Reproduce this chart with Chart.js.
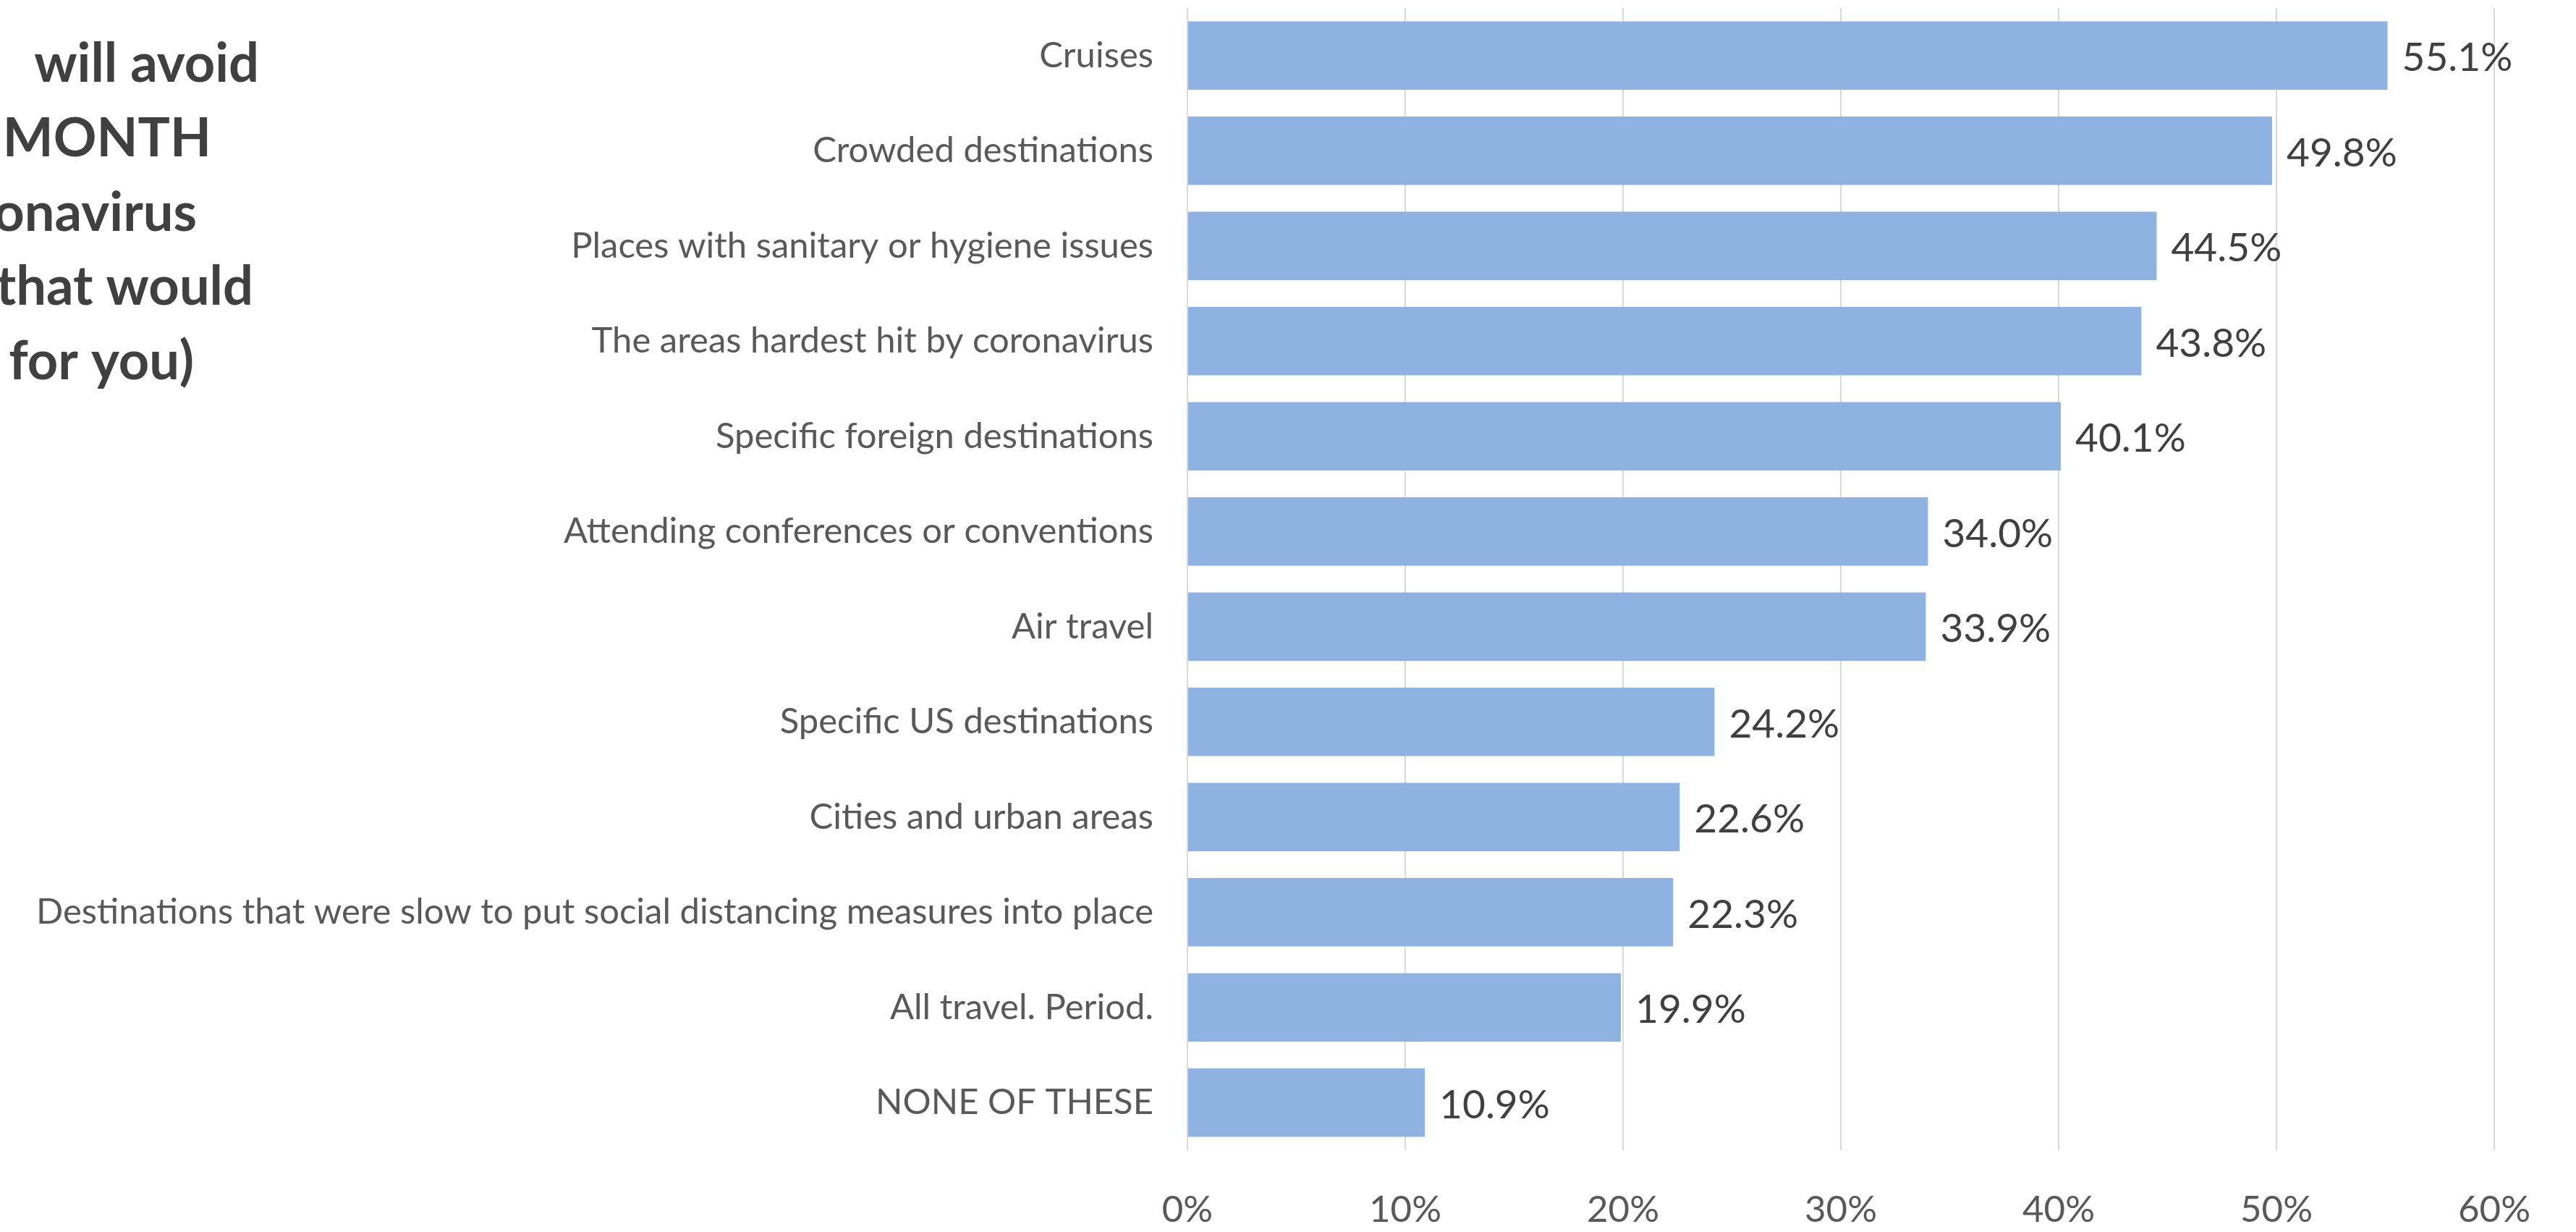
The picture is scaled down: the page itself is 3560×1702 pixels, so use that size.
<!DOCTYPE html>
<html>
<head>
<meta charset="utf-8">
<title>Places to avoid</title>
<script src="https://cdn.jsdelivr.net/npm/chart.js@4.4.0/dist/chart.umd.min.js"></script>
<style>
  html, body { margin: 0; padding: 0; background: #fff; }
  canvas { display: block; }
</style>
</head>
<body>
<canvas id="avoidChart" width="3560" height="1702"></canvas>
<script>
const categories = [
  "Cruises",
  "Crowded destinations",
  "Places with sanitary or hygiene issues",
  "The areas hardest hit by coronavirus",
  "Specific foreign destinations",
  "Attending conferences or conventions",
  "Air travel",
  "Specific US destinations",
  "Cities and urban areas",
  "Destinations that were slow to put social distancing measures into place",
  "All travel. Period.",
  "NONE OF THESE",
];
const shares = [55.1, 49.8, 44.5, 43.8, 40.1, 34.0, 33.9, 24.2, 22.6, 22.3, 19.9, 10.9];
const tickValues = [0, 10, 20, 30, 40, 50, 60];
const titleLines = [
  "Places I\u2003will avoid",
  "in the NEXT\u2003MONTH",
  "due to coronavirus",
  "(select all that would",
  "apply for you)",
];

const FONT = "Lato, 'Noto Sans', sans-serif";

// title block sits at the far left, running past the canvas edge
const titleRight = [358, 292, 272, 350, 268];
const titleBase = [113, 216, 319, 421, 524];
const titlePlugin = {
  id: "leftTitle",
  afterDraw(chart) {
    const c = chart.ctx;
    c.save();
    c.font = "bold 74px " + FONT;
    c.fillStyle = "#404040";
    c.textAlign = "right";
    c.textBaseline = "alphabetic";
    titleLines.forEach((line, i) => {
      c.fillText(line, titleRight[i], titleBase[i]);
    });
    c.restore();
  },
};

// percentage printed just past the end of each bar
const valueLabels = {
  id: "valueLabels",
  afterDatasetsDraw(chart) {
    const c = chart.ctx;
    const meta = chart.getDatasetMeta(0);
    c.save();
    c.font = "55px " + FONT;
    c.fillStyle = "#404040";
    c.textAlign = "left";
    c.textBaseline = "middle";
    meta.data.forEach((bar, i) => {
      c.fillText(shares[i].toFixed(1) + "%", bar.x + 20, bar.y + 4);
    });
    c.restore();
  },
};

const ctx = document.getElementById("avoidChart").getContext("2d");
const avoidChart = new Chart(ctx, {
  type: "bar",
  data: {
    labels: categories,
    datasets: [{
      data: shares,
      backgroundColor: "#8EB3E2",
      borderWidth: 0,
      barPercentage: 0.72,
      categoryPercentage: 1.0,
    }],
  },
  options: {
    indexAxis: "y",
    responsive: false,
    animation: false,
    devicePixelRatio: 1,
    layout: {
      padding: {top: 11, right: 113, bottom: 0, left: 0},
    },
    plugins: {
      legend: {display: false},
      tooltip: {enabled: false},
    },
    scales: {
      x: {
        min: tickValues[0],
        max: tickValues[tickValues.length - 1],
        afterBuildTicks: (axis) => {
          axis.ticks = tickValues.map((v) => ({value: v}));
        },
        afterFit: (axis) => {
          axis.height = 113;
          axis.paddingLeft = 0;
          axis.paddingRight = 0;
        },
        grid: {
          color: "#D9D9D9",
          lineWidth: 2,
          drawTicks: false,
        },
        border: {display: false},
        ticks: {
          padding: 52,
          color: "#595959",
          font: {family: FONT, size: 51},
          callback: (v) => v + "%",
        },
      },
      y: {
        afterFit: (axis) => {
          axis.width = 1641;
          axis.paddingTop = 0;
          axis.paddingBottom = 0;
        },
        grid: {display: false, drawTicks: false},
        border: {display: false},
        ticks: {
          padding: 47,
          color: "#595959",
          font: {family: FONT, size: 49},
        },
      },
    },
  },
  plugins: [titlePlugin, valueLabels],
});
</script>
</body>
</html>
